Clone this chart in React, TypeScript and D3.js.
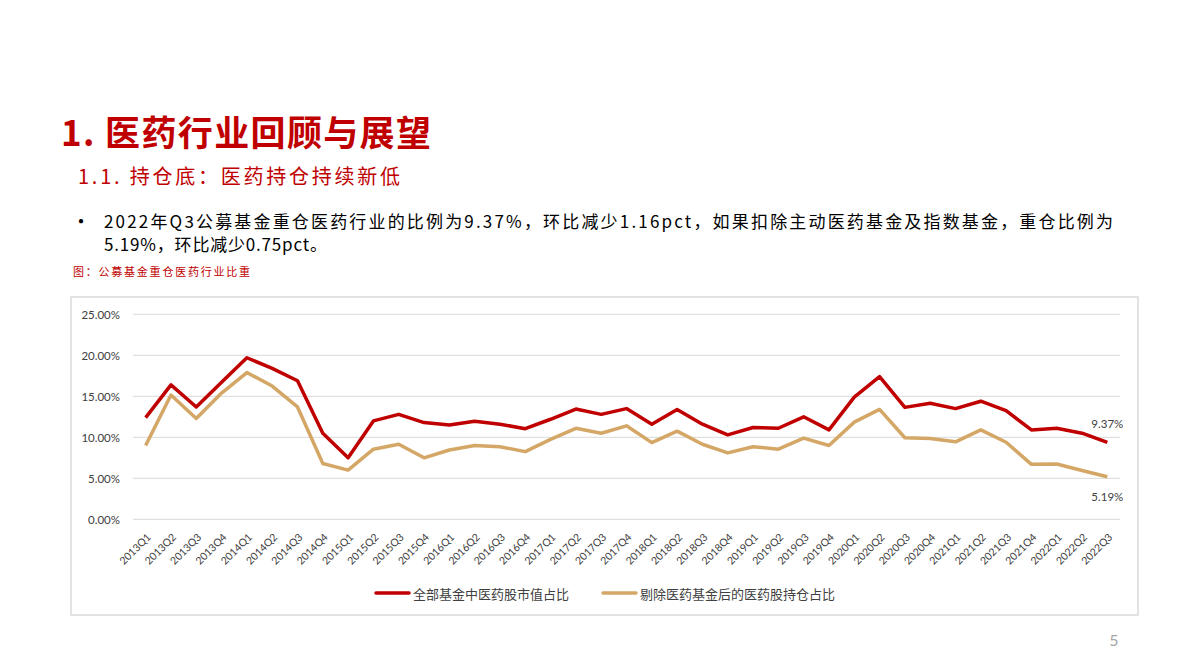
import React, { useRef, useEffect } from 'react';
import * as d3 from 'd3';

// quarters 2013Q1 .. 2022Q3
const quarters: string[] = [
  '2013Q1', '2013Q2', '2013Q3', '2013Q4',
  '2014Q1', '2014Q2', '2014Q3', '2014Q4',
  '2015Q1', '2015Q2', '2015Q3', '2015Q4',
  '2016Q1', '2016Q2', '2016Q3', '2016Q4',
  '2017Q1', '2017Q2', '2017Q3', '2017Q4',
  '2018Q1', '2018Q2', '2018Q3', '2018Q4',
  '2019Q1', '2019Q2', '2019Q3', '2019Q4',
  '2020Q1', '2020Q2', '2020Q3', '2020Q4',
  '2021Q1', '2021Q2', '2021Q3', '2021Q4',
  '2022Q1', '2022Q2', '2022Q3',
];

// 全部基金中医药股市值占比 (%)
const allFunds: number[] = [
  12.4, 16.4, 13.7, 16.7,
  19.7, 18.4, 16.9, 10.5,
  7.5, 12.0, 12.8, 11.8,
  11.5, 11.95, 11.6, 11.05,
  12.2, 13.45, 12.8, 13.5,
  11.6, 13.4, 11.6, 10.3,
  11.2, 11.1, 12.5, 10.9,
  14.9, 17.4, 13.65, 14.15,
  13.5, 14.4, 13.25, 10.9,
  11.1, 10.5, 9.37,
];

// 剔除医药基金后的医药股持仓占比 (%)
const exPharmaFunds: number[] = [
  9.0, 15.15, 12.3, 15.4,
  17.9, 16.25, 13.7, 6.8,
  6.0, 8.55, 9.15, 7.5,
  8.45, 9.0, 8.85, 8.25,
  9.75, 11.1, 10.5, 11.4,
  9.35, 10.75, 9.15, 8.1,
  8.85, 8.55, 9.9, 9.0,
  11.85, 13.4, 9.95, 9.85,
  9.45, 10.9, 9.4, 6.7,
  6.75, 5.95, 5.19,
];

const yTicks: number[] = [0, 5, 10, 15, 20, 25];

const seriesNames: string[] = ['全部基金中医药股市值占比', '剔除医药基金后的医药股持仓占比'];
const seriesColors: string[] = ['#C00000', '#D4A766'];

const titleText = '1. 医药行业回顾与展望';
const subTitleText = '1.1. 持仓底：医药持仓持续新低';
const bulletLines: string[] = [
  '2022年Q3公募基金重仓医药行业的比例为9.37%，环比减少1.16pct，如果扣除主动医药基金及指数基金，重仓比例为',
  '5.19%，环比减少0.75pct。',
];
const captionText = '图：公募基金重仓医药行业比重';
const pageNumber = '5';

const W = 1190;
const H = 669;
const CJK = '"Noto Sans CJK SC", "Noto Sans", sans-serif';
const LATIN = 'Lato, "Noto Sans", sans-serif';

const App: React.FC = () => {
  const svgRef = useRef<SVGSVGElement>(null);

  useEffect(() => {
    if (!svgRef.current) return;
    const svg = d3.select(svgRef.current);
    svg.selectAll('*').remove();

    // header texts
    svg.append('text')
      .attr('x', 61).attr('y', 130)
      .attr('dominant-baseline', 'central')
      .attr('font-family', CJK).attr('font-weight', 700).attr('font-size', 35)
      .attr('fill', '#C00000')
      .attr('textLength', 370).attr('lengthAdjust', 'spacing')
      .text(titleText);

    svg.append('text')
      .attr('x', 78).attr('y', 175)
      .attr('dominant-baseline', 'central')
      .attr('font-family', CJK).attr('font-size', 20)
      .attr('fill', '#C00000')
      .attr('textLength', 322).attr('lengthAdjust', 'spacing')
      .text(subTitleText);

    svg.append('text')
      .attr('x', 71).attr('y', 220)
      .attr('dominant-baseline', 'central')
      .attr('font-family', CJK).attr('font-size', 20)
      .attr('fill', '#000')
      .text('•');

    const lineLens = [1009, 223];
    bulletLines.forEach((line, i) => {
      svg.append('text')
        .attr('x', 104).attr('y', 220 + i * 23.5)
        .attr('dominant-baseline', 'central')
        .attr('font-family', CJK).attr('font-size', 17)
        .attr('fill', '#000')
        .attr('textLength', lineLens[i]).attr('lengthAdjust', 'spacing')
        .text(line);
    });

    svg.append('text')
      .attr('x', 73).attr('y', 271)
      .attr('dominant-baseline', 'central')
      .attr('font-family', CJK).attr('font-size', 11)
      .attr('fill', '#C00000')
      .attr('textLength', 177).attr('lengthAdjust', 'spacing')
      .text(captionText);

    // frame: shadowed red rules and light box
    const defs = svg.append('defs');
    const f = defs.append('filter').attr('id', 'ruleShadow')
      .attr('x', '-5%').attr('y', '-200%').attr('width', '110%').attr('height', '500%');
    f.append('feDropShadow').attr('dx', 0).attr('dy', 2).attr('stdDeviation', 1.2)
      .attr('flood-color', '#000').attr('flood-opacity', 0.35);

    svg.append('rect')
      .attr('x', 71).attr('y', 297).attr('width', 1067).attr('height', 318)
      .attr('fill', '#fff').attr('stroke', '#D9D9D9').attr('stroke-width', 1.5);

    [288.5, 621.5].forEach((y) => {
      svg.append('line')
        .attr('x1', 65).attr('x2', 1142.5).attr('y1', y).attr('y2', y)
        .attr('stroke', '#AC3A1E').attr('stroke-width', 3.5)
        .attr('filter', 'url(#ruleShadow)');
    });

    // scales
    const x = d3.scaleBand<string>().domain(quarters).range([133, 1120]).padding(0);
    const cx = (q: string) => (x(q) as number) + x.bandwidth() / 2;
    const y = d3.scaleLinear().domain([0, 25]).range([519.3, 314.3]);

    // grid
    const grid = svg.append('g');
    yTicks.forEach((t) => {
      grid.append('line')
        .attr('x1', 133).attr('x2', 1120)
        .attr('y1', y(t)).attr('y2', y(t))
        .attr('stroke', '#D9D9D9').attr('stroke-width', 1);
      grid.append('text')
        .attr('x', 120).attr('y', y(t))
        .attr('dominant-baseline', 'central')
        .attr('text-anchor', 'end')
        .attr('font-family', LATIN).attr('font-size', 11.5)
        .attr('fill', '#404040')
        .text(`${t.toFixed(2)}%`);
    });

    // x labels
    quarters.forEach((q) => {
      svg.append('text')
        .attr('transform', `translate(${cx(q) + 3},${535}) rotate(-45)`)
        .attr('text-anchor', 'end')
        .attr('dominant-baseline', 'central')
        .attr('font-family', LATIN).attr('font-size', 10.5)
        .attr('fill', '#404040')
        .text(q);
    });

    // lines
    const line = d3.line<number>()
      .x((_, i) => cx(quarters[i]))
      .y((d) => y(d));

    [allFunds, exPharmaFunds].forEach((vals, si) => {
      svg.append('path')
        .datum(vals)
        .attr('d', line)
        .attr('fill', 'none')
        .attr('stroke', seriesColors[si])
        .attr('stroke-width', 3.5)
        .attr('stroke-linejoin', 'round');
    });

    // end labels
    const lastQ = quarters[quarters.length - 1];
    const lastRed = allFunds[allFunds.length - 1];
    const lastTan = exPharmaFunds[exPharmaFunds.length - 1];
    svg.append('text')
      .attr('x', cx(lastQ)).attr('y', y(lastRed) - 19)
      .attr('text-anchor', 'middle').attr('dominant-baseline', 'central')
      .attr('font-family', LATIN).attr('font-size', 11.5).attr('fill', '#404040')
      .text(`${lastRed.toFixed(2)}%`);
    svg.append('text')
      .attr('x', cx(lastQ)).attr('y', y(lastTan) + 20)
      .attr('text-anchor', 'middle').attr('dominant-baseline', 'central')
      .attr('font-family', LATIN).attr('font-size', 11.5).attr('fill', '#404040')
      .text(`${lastTan.toFixed(2)}%`);

    // legend
    const legendX = [376, 603];
    seriesNames.forEach((name, i) => {
      const g = svg.append('g').attr('transform', `translate(${legendX[i]},593)`);
      g.append('line')
        .attr('x1', 0).attr('x2', 33).attr('y1', 0).attr('y2', 0)
        .attr('stroke', seriesColors[i]).attr('stroke-width', 3.5)
        .attr('stroke-linecap', 'round');
      g.append('text')
        .attr('x', 37).attr('y', 0)
        .attr('dominant-baseline', 'central')
        .attr('font-family', CJK).attr('font-size', 13)
        .attr('fill', '#404040')
        .text(name);
    });

    // page number
    svg.append('text')
      .attr('x', 1114).attr('y', 639)
      .attr('text-anchor', 'middle').attr('dominant-baseline', 'central')
      .attr('font-family', LATIN).attr('font-size', 16).attr('fill', '#A6A6A6')
      .text(pageNumber);
  }, []);

  return (
    <svg
      ref={svgRef}
      width={W}
      height={H}
      style={{ position: 'absolute', left: 0, top: 0, background: '#fff' }}
    />
  );
};

export default App;
